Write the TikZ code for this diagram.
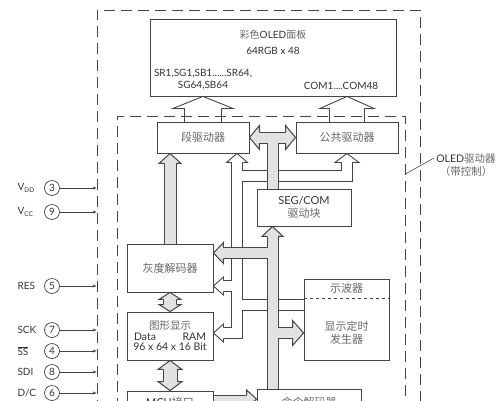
\documentclass[tikz,border=0pt]{standalone}
\usepackage{fontspec}
\setmainfont{Lato}
\newfontfamily\cjk{Noto Sans CJK SC}
\usepackage{xcolor}
\usetikzlibrary{arrows.meta, calc, backgrounds}
\definecolor{linec}{HTML}{444444}
\definecolor{pipefill}{HTML}{E2E2E2}
\definecolor{cjktext}{HTML}{666666}
\definecolor{latintext}{HTML}{333333}
\tikzset{
    pics/ghd/.style n args={3}{code={\filldraw[draw=linec, fill=pipefill, line width=1pt] (-#3,#1) -- (-#3,#2) -- (0,0) -- (-#3,-#2) -- (-#3,-#1);}},
    pics/whd/.style n args={3}{code={\filldraw[draw=linec, fill=white, line width=0.9pt] (-#3,#1) -- (-#3,#2) -- (0,0) -- (-#3,-#2) -- (-#3,-#1);}},
}
\begin{document}
\begin{tikzpicture}[
    x=1pt, y=-1pt,
    >={Stealth[length=4pt, width=3pt]},
    blk/.style={draw=linec, fill=white, line width=0.9pt, inner sep=0pt, align=center, text=cjktext, font=\cjk\fontsize{11}{13}\selectfont},
    dashbox/.style={draw=linec, line width=0.8pt, inner sep=0pt, dash pattern=on 11pt off 6pt},
    gpipe/.style={draw=linec, line width=1pt, double=pipefill, double distance=#1},
    wpipe/.style={draw=linec, line width=0.9pt, double=white, double distance=#1},
    pin/.style={circle, draw=linec, line width=0.7pt, minimum size=15pt, inner sep=0pt, font=\fontsize{10}{12}\selectfont, text=latintext},
    pinname/.style={anchor=west, font=\fontsize{10}{12}\selectfont, text=latintext},
    txt/.style={font=\fontsize{10}{12}\selectfont, text=latintext, align=center},
    cjktxt/.style={font=\cjk\fontsize{11}{13}\selectfont, text=cjktext, align=center},
]
    \useasboundingbox (0,0) rectangle (500,400);

    % Panel
    \node[blk, minimum width=246pt, minimum height=77pt] (panel) at (273,57.5) {};
    \node[txt] (ptitle) at (273,35) {{\cjk\color{cjktext}彩色}OLED{\cjk\color{cjktext}面板}};
    \node[txt] (pres) at (273,51) {64RGB x 48};
    \node[txt] (segpins) at (203,80) {SR1,SG1,SB1......SR64,\\SG64,SB64};
    \node[txt] (compins) at (341,86) {COM1....COM48};

    % Drivers
    \node[blk, minimum width=92pt, minimum height=31pt] (seg) at (203,137.5) {段驱动器};
    \node[blk, minimum width=102pt, minimum height=31pt] (com) at (347,137.5) {公共驱动器};
    \node[blk, minimum width=94pt, minimum height=37pt] (segcom) at (304,207.5) {{\normalfont\color{latintext}SEG/COM}\\驱动块};

    % Decoders and memory
    \node[blk, minimum width=86pt, minimum height=48pt] (gray) at (170,268) {灰度解码器};
    \node[blk, minimum width=86pt, minimum height=48pt, font=\cjk\fontsize{10.5}{10.5}\selectfont] (ram) at (170,336) {图形显示\\{\normalfont\color{latintext}\makebox[72pt]{Data\hfill RAM}}\\{\normalfont\color{latintext}96 x 64 x 16 Bit}};
    \node[blk, minimum width=85pt, minimum height=81pt] (timing) at (346.5,319.5) {};
    \node[cjktxt] (osclbl) at (346.5,288) {示波器};
    \node[cjktxt] (tgenlbl) at (346.5,333) {显示定时\\发生器};
    \draw[linec, line width=0.7pt, dashed] (timing.west |- 0,298) -- (timing.east |- 0,298);

    % Interface
    \node[blk, minimum width=86pt, minimum height=50pt] (mcu) at (170,416) {};
    \node[cjktxt] (mculbl) at (170,402) {{\normalfont\color{latintext}MCU}接口};
    \node[blk, minimum width=104pt, minimum height=51pt] (cmd) at (309,414.5) {};
    \node[cjktxt] (cmdlbl) at (309,402) {命令解码器};

    % Outlines
    \node[dashbox, minimum width=323pt, minimum height=460pt] (chip) at (258.5,240) {};
    \node[dashbox, minimum width=288pt, minimum height=400pt] (drv) at (261,316) {};
    \node[font=\cjk\fontsize{10.5}{13}\selectfont, text=cjktext, align=center] (drvlbl) at (466,165) {{\normalfont\color{latintext}OLED}驱动器\\（带控制）};
    \draw[linec, line width=0.6pt] (drv.east |- 0,174) -- ($(drvlbl.north west)+(1,8)$);

    % Pins
    \node[pinname] (vddl) at (14,188) {V{\fontsize{6.5}{7}\selectfont\raisebox{-1.5pt}{DD}}};
    \node[pin] (p3) at (52,188) {3};
    \node[pinname] (vccl) at (14,212) {V{\fontsize{6.5}{7}\selectfont\raisebox{-1.5pt}{CC}}};
    \node[pin] (p9) at (52,212) {9};
    \node[pinname] (resl) at (14,286) {RES};
    \node[pin] (p5) at (52,286) {5};
    \node[pinname] (sckl) at (14,330) {SCK};
    \node[pin] (p7) at (52,330) {7};
    \node[pinname] (ssl) at (14,351) {$\overline{\mbox{SS}}$};
    \node[pin] (p4) at (52,351) {4};
    \node[pinname] (sdil) at (14,372) {SDI};
    \node[pin] (p8) at (52,372) {8};
    \node[pinname] (dcl) at (14,393) {D/C};
    \node[pin] (p6) at (52,393) {6};
    \draw[linec, line width=0.7pt, ->] (p3) -- (p3 -| chip.west);
    \draw[linec, line width=0.7pt, ->] (p9) -- (p9 -| chip.west);
    \draw[linec, line width=0.7pt, ->] (p5) -- (p5 -| chip.west);
    \draw[linec, line width=0.7pt, ->] (p7) -- (p7 -| chip.west);
    \draw[linec, line width=0.7pt, ->] (p4) -- (p4 -| chip.west);
    \draw[linec, line width=0.7pt, ->] (p8) -- (p8 -| chip.west);
    \draw[linec, line width=0.7pt, ->] (p6) -- (p6 -| chip.west);

    % Buses
    \coordinate (cbus) at (237,0);
    \coordinate (gbus) at (272.5,0);
    \begin{pgfonlayer}{background}
        % timing lines
        \draw[wpipe=10.1pt] ($(cbus |- seg.south)+(0,9)$) -- (cbus |- 0,333) -- ($(ram.east |- 0,333)+(10,0)$)
            (cbus |- 0,176) -- (com.south |- 0,176) -- ($(com.south)+(0,9)$)
            (cbus |- 0,286) -- ($(gray.east |- 0,286)+(10,0)$)
            (cbus |- 0,305) -- (timing.west |- 0,305);
        \pic[rotate=90] at (cbus |- seg.south) {whd={5.5}{10.5}{9}};
        \pic[rotate=90] at (com.south) {whd={5.5}{12}{9}};
        \pic[rotate=180] at (gray.east |- 0,286) {whd={5.5}{9}{10}};
        \pic[rotate=180] at (ram.east |- 0,333) {whd={5.5}{9}{10}};
        % panel outputs
        \draw[wpipe=36.1pt] (seg.north) -- ($(seg.north |- panel.south)+(0,12)$);
        \pic[rotate=90] at (seg.north |- panel.south) {whd={18.5}{30}{12}};
        \draw[wpipe=34.1pt] (com.north) -- ($(com.north |- panel.south)+(0,12)$);
        \pic[rotate=90] at (com.north |- panel.south) {whd={17.5}{27}{12}};
        % data bus
        \draw[gpipe=10pt] (gbus |- cmd.north) -- ($(gbus |- segcom.south)+(0,10)$)
            (gbus |- 0,253) -- ($(gray.east |- 0,253)+(10,0)$)
            (gbus |- 0,333) -- ($(timing.west |- 0,333)+(-11,0)$);
        \pic[rotate=90] at (gbus |- segcom.south) {ghd={5.5}{10.5}{10}};
        \pic[rotate=180] at (gray.east |- 0,253) {ghd={5.5}{10.5}{10}};
        \pic at (timing.west |- 0,333) {ghd={5}{12.5}{11}};
        \draw[gpipe=10pt] (gbus |- segcom.north) -- (gbus |- seg.east)
            ($(seg.east)+(10,0)$) -- ($(com.west)+(-10,0)$);
        \pic[rotate=180] at (seg.east) {ghd={5.5}{12}{10}};
        \pic at (com.west) {ghd={5.5}{12}{10}};
        \draw[gpipe=11pt] (gray.north) -- ($(gray.north |- seg.south)+(0,10)$);
        \pic[rotate=90] at (gray.north |- seg.south) {ghd={6}{11}{10}};
        \draw[gpipe=12pt] ($(gray.south)+(0,7)$) -- ($(ram.north)+(0,-7)$);
        \pic[rotate=90] at (gray.south) {ghd={6.5}{11}{7}};
        \pic[rotate=-90] at (ram.north) {ghd={6.5}{11}{7}};
        \draw[gpipe=13pt] ($(ram.south)+(0,9)$) -- ($(mcu.north)+(0,-9)$);
        \pic[rotate=90] at (ram.south) {ghd={7}{12}{9}};
        \pic[rotate=-90] at (mcu.north) {ghd={7}{12}{9}};
        \draw[gpipe=7pt] (mcu.east |- 0,399) -- ($(cmd.west |- 0,399)+(-10,0)$);
        \pic at (cmd.west |- 0,399) {ghd={4}{9}{10}};
    \end{pgfonlayer}
\end{tikzpicture}
\end{document}
